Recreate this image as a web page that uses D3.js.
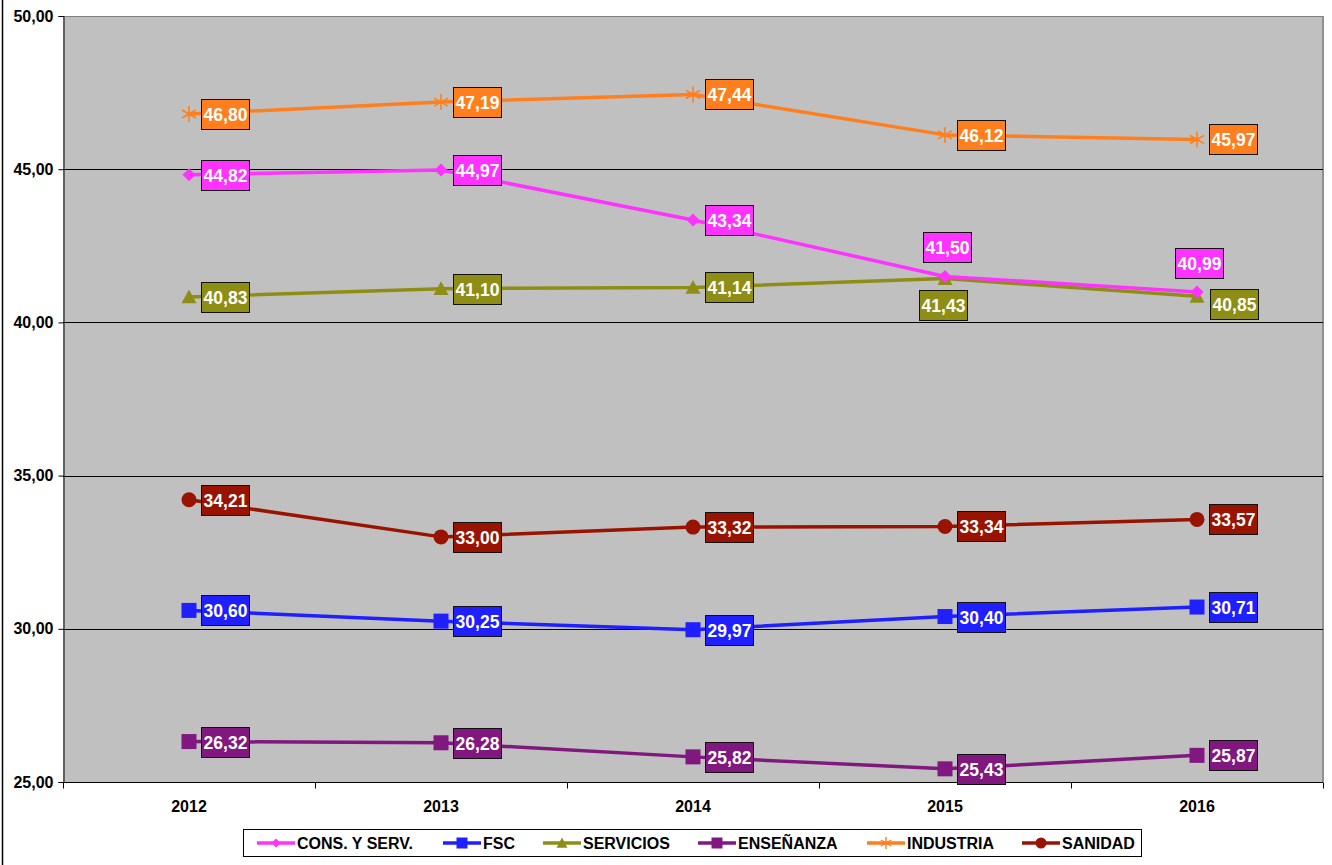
<!DOCTYPE html>
<html><head><meta charset="utf-8">
<script src="https://cdn.jsdelivr.net/npm/d3@7"></script>
<style>body{margin:0;background:#fff;}svg{display:block;font-family:"Liberation Sans",Arial,sans-serif;}</style>
</head><body>
<svg id="c" width="1332" height="865"></svg>
<script>
const years = ["2012","2013","2014","2015","2016"];
const seriesNames = ["CONS. Y SERV.","FSC","SERVICIOS","ENSEÑANZA","INDUSTRIA","SANIDAD"];
const consServ = [44.82,44.97,43.34,41.50,40.99];
const fsc = [30.60,30.25,29.97,30.40,30.71];
const servicios = [40.83,41.10,41.14,41.43,40.85];
const ensenanza = [26.32,26.28,25.82,25.43,25.87];
const industria = [46.80,47.19,47.44,46.12,45.97];
const sanidad = [34.21,33.00,33.32,33.34,33.57];
const yTicks = [25,30,35,40,45,50];

const colors = ["#FF33FF","#1F1FFF","#8E8E16","#80187F","#FF7F1E","#991400"];
const markers = ["diamond","square","triangle","square","star","circle"];
const valuesAll = [consServ,fsc,servicios,ensenanza,industria,sanidad];
// label placement overrides (series index -> year index -> placement)
const placement = {0:{3:"above",4:"above"},2:{3:"below",4:"rightLow"}};
const drawOrder = [2,0,1,3,4,5];

const svg = d3.select("#c");
const L=63,T=16,R=1323,B=782;
const x = d3.scaleBand().domain(years).range([L,R]);
const y = d3.scaleLinear().domain([25,50]).range([B,T]);
const fmt = v => d3.format(".2f")(v).replace(".",",");

// outer left border
svg.append("line").attr("x1",2.5).attr("x2",2.5).attr("y1",0).attr("y2",865).attr("stroke","#000").attr("stroke-width",1.5);

// plot bg
svg.append("rect").attr("x",L).attr("y",T).attr("width",R-L).attr("height",B-T).attr("fill","#C0C0C0");
svg.append("line").attr("x1",L).attr("x2",R).attr("y1",T+0.5).attr("y2",T+0.5).attr("stroke","#808080").attr("stroke-width",1);
svg.append("line").attr("x1",R).attr("x2",R).attr("y1",T).attr("y2",B).attr("stroke","#909090").attr("stroke-width",2);

// gridlines
svg.append("g").selectAll("line").data(yTicks.filter(d=>d>25&&d<50)).join("line")
  .attr("x1",L).attr("x2",R).attr("y1",d=>Math.round(y(d))+0.5).attr("y2",d=>Math.round(y(d))+0.5)
  .attr("stroke","#000").attr("stroke-width",1);

// y axis
const yAxis = d3.axisLeft(y).tickValues(yTicks).tickSize(5).tickPadding(5).tickFormat(fmt);
const gy = svg.append("g").attr("transform",`translate(${L+0.5},0)`).call(yAxis);
gy.select(".domain").attr("stroke","#000");
gy.selectAll(".tick line").attr("stroke","#000");
gy.selectAll("text").attr("font-size",16).attr("font-weight","bold").attr("fill","#000").attr("font-family","Liberation Sans, Arial, sans-serif");

// x axis
const gx = svg.append("g").attr("transform",`translate(0,${B+0.5})`);
gx.append("line").attr("x1",L).attr("x2",R).attr("stroke","#000");
const bounds = years.map(d=>x(d)).concat([R]);
gx.selectAll(".tk").data(bounds).join("line").attr("class","tk")
  .attr("x1",d=>Math.round(d)+0.5).attr("x2",d=>Math.round(d)+0.5).attr("y1",0).attr("y2",6).attr("stroke","#000");
gx.selectAll("text").data(years).join("text")
  .attr("x",d=>x(d)+x.bandwidth()/2).attr("y",29.5).attr("text-anchor","middle")
  .attr("font-size",16).attr("font-weight","bold").attr("fill","#000").text(d=>d);

function markerPath(type,size){
  const s=size/2;
  switch(type){
    case "diamond": return `M0,${-s}L${s},0L0,${s}L${-s},0Z`;
    case "square": return `M${-s},${-s}H${s}V${s}H${-s}Z`;
    case "triangle": return `M0,${-s}L${s},${s*0.85}L${-s},${s*0.85}Z`;
    case "circle": return d3.symbol(d3.symbolCircle, Math.PI*s*s)();
    case "star": return `M0,${-s}V${s}M${-s*0.87},${-s*0.5}L${s*0.87},${s*0.5}M${-s*0.87},${s*0.5}L${s*0.87},${-s*0.5}`;
  }
}
const mSize = {diamond:13,square:15,triangle:15,circle:15,star:16};
const cx = d => x(d)+x.bandwidth()/2;

const line = d3.line().x((d,i)=>cx(years[i])).y(d=>y(d));
drawOrder.forEach(si=>{
  const vals=valuesAll[si], col=colors[si], mk=markers[si];
  const g=svg.append("g");
  g.append("path").attr("d",line(vals)).attr("fill","none").attr("stroke",col).attr("stroke-width",3.5).attr("stroke-linejoin","round");
  g.selectAll(".m").data(vals).join("path").attr("class","m")
    .attr("transform",(d,i)=>`translate(${cx(years[i])},${y(d)})`)
    .attr("d",markerPath(mk,mSize[mk]))
    .attr("fill",mk==="star"?"none":col).attr("stroke",col).attr("stroke-width",mk==="star"?1.6:0);
});

// labels
const bw=48,bh=30;
const lg=svg.append("g");
valuesAll.forEach((vals,si)=>{
  vals.forEach((v,i)=>{
    const px=cx(years[i]), py=y(v);
    const pl=(placement[si]&&placement[si][i])||"right";
    let bx,by;
    if(pl==="right"){bx=px+12;by=py-bh/2;}
    else if(pl==="rightLow"){bx=px+13;by=py-bh/2+8;}
    else if(pl==="above"){bx=px-bw/2+2;by=py-bh/2-29;}
    else {bx=px-bw/2-2;by=py-bh/2+26;}
    bx=Math.round(bx)+0.5; by=Math.round(by)+0.5;
    lg.append("rect").attr("x",bx).attr("y",by).attr("width",bw).attr("height",bh)
      .attr("fill",colors[si]).attr("stroke","#111").attr("stroke-width",1);
    lg.append("text").attr("x",bx+bw/2).attr("y",by+bh/2+6.5).attr("text-anchor","middle")
      .attr("font-size",17.5).attr("font-weight","bold").attr("fill","#fff").text(fmt(v));
  });
});

// legend
const leg=svg.append("g");
leg.append("rect").attr("x",243.5).attr("y",829.5).attr("width",898).attr("height",27).attr("fill","#fff").attr("stroke","#000").attr("stroke-width",1);
const legX=[257,443,543,698,867,1022];
seriesNames.forEach((n,si)=>{
  const lx=legX[si], ly=843;
  leg.append("line").attr("x1",lx).attr("x2",lx+38).attr("y1",ly).attr("y2",ly).attr("stroke",colors[si]).attr("stroke-width",3.5);
  const mk=markers[si];
  leg.append("path").attr("transform",`translate(${lx+19},${ly})`).attr("d",markerPath(mk,mk==="star"?12:(mk==="diamond"?9:11)))
    .attr("fill",mk==="star"?"none":colors[si]).attr("stroke",colors[si]).attr("stroke-width",mk==="star"?1.4:0);
  leg.append("text").attr("x",lx+40).attr("y",ly+6).attr("font-size",16).attr("font-weight","bold").attr("fill","#000").text(n);
});
</script>
</body></html>
